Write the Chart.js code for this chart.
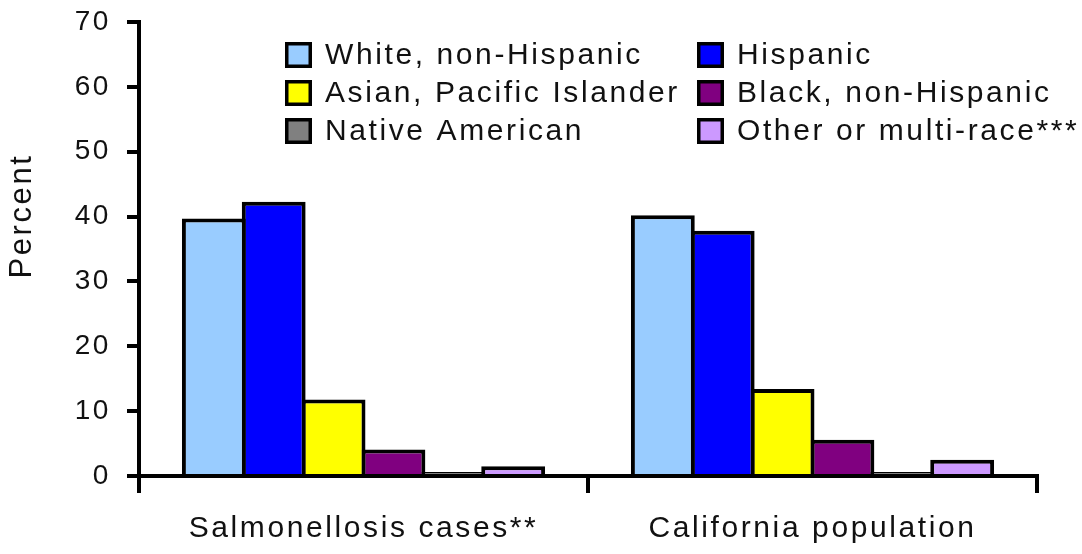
<!DOCTYPE html>
<html>
<head>
<meta charset="utf-8">
<script src="https://cdn.jsdelivr.net/npm/chart.js@4/dist/chart.umd.min.js"></script>
<style>
  html, body { margin: 0; padding: 0; background: #ffffff; }
  #wrap { width: 1082px; height: 554px; }
</style>
</head>
<body>
<div id="wrap"><canvas id="chart" width="1082" height="554"></canvas></div>
<script>
// Groups along the x axis
const categories = ['Salmonellosis cases**', 'California population'];

// Race / ethnicity series (percent)
const seriesNames = [
  'White, non-Hispanic',
  'Hispanic',
  'Asian, Pacific Islander',
  'Black, non-Hispanic',
  'Native American',
  'Other or multi-race***'
];
const whiteNonHispanic = [39.7, 40.2];
const hispanic = [42.3, 37.8];
const asianPacific = [11.8, 13.4];
const blackNonHispanic = [4.1, 5.6];
const nativeAmerican = [0.6, 0.6];
const otherMulti = [1.5, 2.5];

const seriesColors = ['#99ccff', '#0000ff', '#ffff00', '#800080', '#808080', '#cc99ff'];

// Value axis ticks
const yTickValues = [0, 10, 20, 30, 40, 50, 60, 70];
const yAxisTitle = 'Percent';

const FONT = '"Liberation Sans", Arial, Helvetica, sans-serif';
const SPACING = '2.6px';

const seriesValues = [whiteNonHispanic, hispanic, asianPacific, blackNonHispanic, nativeAmerican, otherMulti];

// Wide, evenly spaced lettering for every text on the canvas
const spacingPlugin = {
  id: 'spacing',
  beforeUpdate(chart) { chart.ctx.letterSpacing = SPACING; },
  beforeLayout(chart) { chart.ctx.letterSpacing = SPACING; },
  beforeDraw(chart) { chart.ctx.letterSpacing = SPACING; }
};

// Two-column legend inside the plot plus the rotated axis title
const legendGrid = {
  id: 'legendGrid',
  afterDraw(chart) {
    const ctx = chart.ctx;
    const colX = [285, 697];
    const rowY = [42, 80, 118];
    const boxW = 27, boxH = 26, bw = 3.5;
    ctx.save();
    ctx.letterSpacing = SPACING;
    ctx.font = '30px ' + FONT;
    ctx.textAlign = 'left';
    ctx.textBaseline = 'middle';
    chart.data.datasets.forEach((ds, i) => {
      const x = colX[i % 2];
      const y = rowY[Math.floor(i / 2)];
      ctx.fillStyle = '#000000';
      ctx.fillRect(x, y, boxW, boxH);
      ctx.fillStyle = ds.backgroundColor;
      ctx.fillRect(x + bw, y + bw, boxW - 2 * bw, boxH - 2 * bw);
      ctx.fillStyle = '#111111';
      ctx.fillText(ds.label, x + 40, y + boxH / 2 + 1);
    });
    // y axis title
    ctx.font = '31px ' + FONT;
    ctx.textAlign = 'center';
    ctx.translate(22, 216);
    ctx.rotate(-Math.PI / 2);
    ctx.fillText(yAxisTitle, 0, 0);
    ctx.restore();
  }
};

new Chart(document.getElementById('chart'), {
  type: 'bar',
  data: {
    labels: categories,
    datasets: seriesNames.map((name, i) => ({
      label: name,
      data: seriesValues[i],
      backgroundColor: seriesColors[i],
      borderColor: '#000000',
      borderWidth: 4,
      borderSkipped: 'start',
      categoryPercentage: 0.8,
      // neighbouring bars share one outline
      barPercentage: 1.0667
    }))
  },
  options: {
    responsive: false,
    animation: false,
    devicePixelRatio: 1,
    layout: { padding: { top: 22, right: 45, left: 0, bottom: 0 } },
    plugins: {
      legend: { display: false },
      tooltip: { enabled: false }
    },
    scales: {
      x: {
        offset: true,
        grid: {
          display: true,
          drawOnChartArea: false,
          drawTicks: true,
          tickLength: 17,
          color: '#000000',
          lineWidth: 4,
          offset: true,
          z: 1
        },
        border: { display: true, color: '#000000', width: 4, z: 1 },
        ticks: {
          color: '#111111',
          font: { family: FONT, size: 30 },
          padding: 18,
          maxRotation: 0,
          autoSkip: false
        },
        afterFit(scale) {
          scale.height = 78;
          scale.paddingLeft = 0;
          scale.paddingRight = 0;
        }
      },
      y: {
        min: yTickValues[0],
        max: yTickValues[yTickValues.length - 1],
        afterBuildTicks(scale) { scale.ticks = yTickValues.map(v => ({ value: v })); },
        grid: {
          display: true,
          drawOnChartArea: false,
          drawTicks: true,
          tickLength: 12,
          color: '#000000',
          lineWidth: 4,
          z: 1
        },
        border: { display: true, color: '#000000', width: 4, z: 1 },
        ticks: {
          color: '#111111',
          font: { family: FONT, size: 28 },
          padding: 16
        },
        title: { display: false },
        afterFit(scale) {
          scale.width = 139;
          scale.paddingTop = 0;
          scale.paddingBottom = 0;
        }
      }
    }
  },
  plugins: [spacingPlugin, legendGrid]
});
</script>
</body>
</html>
